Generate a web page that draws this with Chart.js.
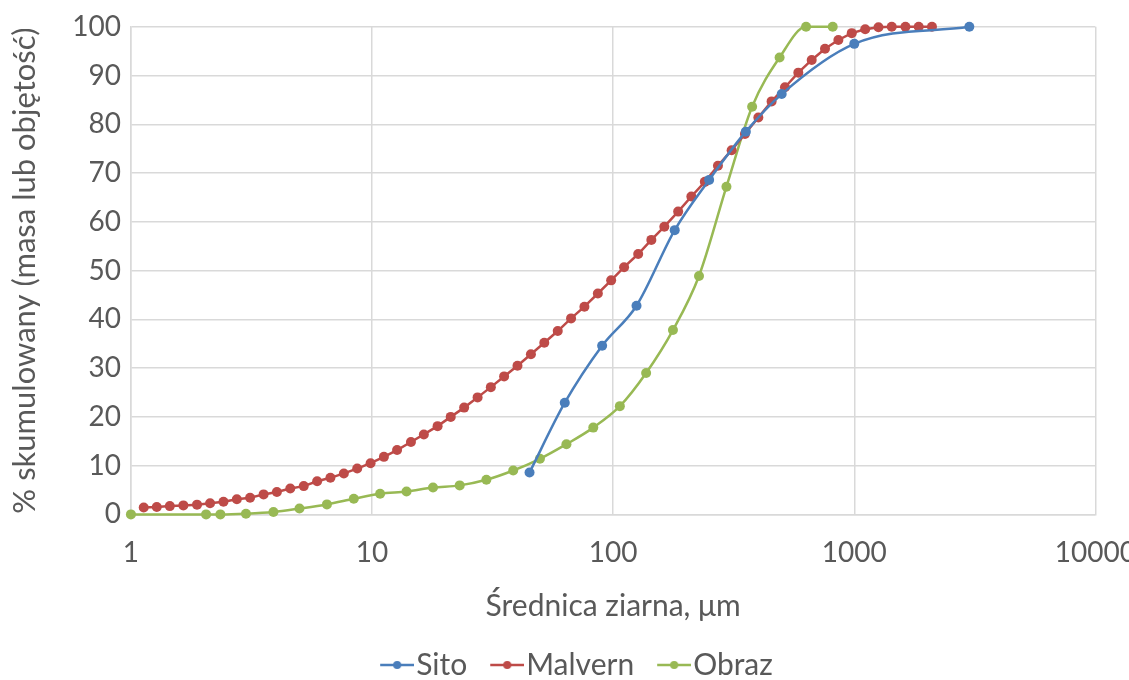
<!DOCTYPE html>
<html>
<head>
<meta charset="utf-8">
<script src="https://cdn.jsdelivr.net/npm/chart.js@4"></script>
<style>
  html, body { margin: 0; padding: 0; background: #fff; overflow: hidden; }
  #wrap { width: 1129px; height: 680px; overflow: hidden; }
</style>
</head>
<body>
<div id="wrap"><canvas id="chart" width="1140" height="690"></canvas></div>
<script>
// grain size (um) and cumulative % for each method
const sitoSize = [45, 63, 90, 125, 180, 250, 355, 500, 1000, 3000];
const sitoPct = [8.6, 22.9, 34.6, 42.8, 58.3, 68.6, 78.5, 86.2, 96.5, 100];

const malvernSize = [1.13, 1.28, 1.45, 1.65, 1.88, 2.13, 2.42, 2.75, 3.12, 3.55,
  4.03, 4.58, 5.21, 5.92, 6.72, 7.64, 8.68, 9.86, 11.2, 12.7,
  14.5, 16.4, 18.7, 21.2, 24.1, 27.4, 31.1, 35.3, 40.1, 45.6,
  51.8, 58.9, 66.9, 76.0, 86.4, 98.1, 111, 127, 144, 163,
  186, 211, 240, 272, 310, 352, 400, 454, 516, 586,
  666, 756, 859, 976, 1110, 1260, 1430, 1630, 1850, 2100];
const malvernPct = [1.4, 1.5, 1.7, 1.85, 2.0, 2.3, 2.6, 3.1, 3.4, 4.1,
  4.6, 5.3, 5.8, 6.8, 7.5, 8.4, 9.4, 10.5, 11.8, 13.2,
  14.85, 16.4, 18.1, 20.0, 21.9, 24.0, 26.1, 28.3, 30.5, 32.85,
  35.2, 37.6, 40.2, 42.6, 45.3, 48.0, 50.7, 53.4, 56.3, 59.0,
  62.1, 65.2, 68.2, 71.5, 74.7, 78.0, 81.4, 84.7, 87.6, 90.6,
  93.2, 95.5, 97.3, 98.7, 99.5, 99.9, 100, 100, 100, 100];

const obrazSize = [1, 2.05, 2.35, 3.0, 3.9, 5.0, 6.5, 8.4, 10.8, 13.9,
  17.9, 23.1, 29.8, 38.5, 49.7, 64, 82.7, 106.6, 137, 177,
  227, 295, 377, 490, 631, 814];
const obrazPct = [0, 0, 0, 0.15, 0.5, 1.2, 2.05, 3.2, 4.25, 4.7,
  5.5, 5.95, 7.1, 9.0, 11.4, 14.4, 17.8, 22.2, 29.0, 37.8,
  48.9, 67.2, 83.6, 93.7, 100, 100];

const xTicks = [1, 10, 100, 1000, 10000];

const seriesNames = ['Sito', 'Malvern', 'Obraz'];
const colors = ['#4A7EBB', '#BE4B48', '#98B954'];

const pts = (xs, ys) => xs.map((x, i) => ({ x: x, y: ys[i] }));

// legend icon: short line with a dot, drawn in the right part so the text sits close
const icon = (color) => {
  const c = document.createElement('canvas');
  c.width = 60;
  c.height = 10;
  const g = c.getContext('2d');
  g.strokeStyle = color;
  g.lineWidth = 2.5;
  g.beginPath();
  g.moveTo(26, 5);
  g.lineTo(60, 5);
  g.stroke();
  g.fillStyle = color;
  g.beginPath();
  g.arc(43, 5, 4, 0, Math.PI * 2);
  g.fill();
  return c;
};
const icons = colors.map(icon);

const line = (i, data, smooth) => ({
  label: seriesNames[i],
  data: data,
  borderColor: colors[i],
  backgroundColor: colors[i],
  pointBackgroundColor: colors[i],
  pointBorderColor: colors[i],
  borderWidth: 2.5,
  pointRadius: 5,
  pointBorderWidth: 0,
  tension: smooth ? 0.4 : 0,
  cubicInterpolationMode: smooth ? 'monotone' : 'default',
  clip: false,
});

const font = 'Lato, "Open Sans", sans-serif';
const textColor = '#595959';

new Chart(document.getElementById('chart'), {
  type: 'line',
  data: {
    datasets: [
      line(0, pts(sitoSize, sitoPct), true),
      line(1, pts(malvernSize, malvernPct), false),
      line(2, pts(obrazSize, obrazPct), true),
    ],
  },
  options: {
    responsive: false,
    animation: false,
    layout: { padding: { top: 9, left: 0, right: 0, bottom: 0 } },
    scales: {
      x: {
        type: 'logarithmic',
        min: 1,
        max: 10000,
        afterBuildTicks: (axis) => {
          axis.ticks = xTicks.map((v) => ({ value: v, major: true }));
        },
        ticks: {
          callback: (v) => String(v),
          color: textColor,
          font: { family: font, size: 28 },
          padding: 4,
          autoSkip: false,
          maxRotation: 0,
        },
        grid: {
          color: '#D9D9D9',
          lineWidth: 1.5,
          drawTicks: true,
          tickLength: 18,
          tickColor: 'rgba(0,0,0,0)',
        },
        border: { color: '#D9D9D9', width: 1.5 },
        title: {
          display: true,
          text: 'Średnica ziarna, μm',
          color: textColor,
          font: { family: font, size: 30, lineHeight: 1.0 },
          padding: { top: 17, bottom: 19 },
        },
      },
      y: {
        min: 0,
        max: 100,
        ticks: {
          stepSize: 10,
          color: textColor,
          font: { family: font, size: 28 },
          padding: 10,
        },
        grid: { color: '#D9D9D9', lineWidth: 1.5, drawTicks: false },
        border: { color: '#D9D9D9', width: 1.5 },
        title: {
          display: true,
          text: '% skumulowany (masa lub objętość)',
          color: textColor,
          font: { family: font, size: 31 },
          padding: { top: 6, bottom: 19 },
        },
      },
    },
    plugins: {
      legend: {
        position: 'bottom',
        labels: {
          usePointStyle: true,
          pointStyleWidth: 34,
          color: textColor,
          font: { family: font, size: 30 },
          padding: 10,
          generateLabels: (chart) => {
            const items = Chart.defaults.plugins.legend.labels.generateLabels(chart);
            items.forEach((it, i) => { it.pointStyle = icons[i]; });
            return items;
          },
        },
      },
      tooltip: { enabled: false },
    },
  },
});
</script>
</body>
</html>
